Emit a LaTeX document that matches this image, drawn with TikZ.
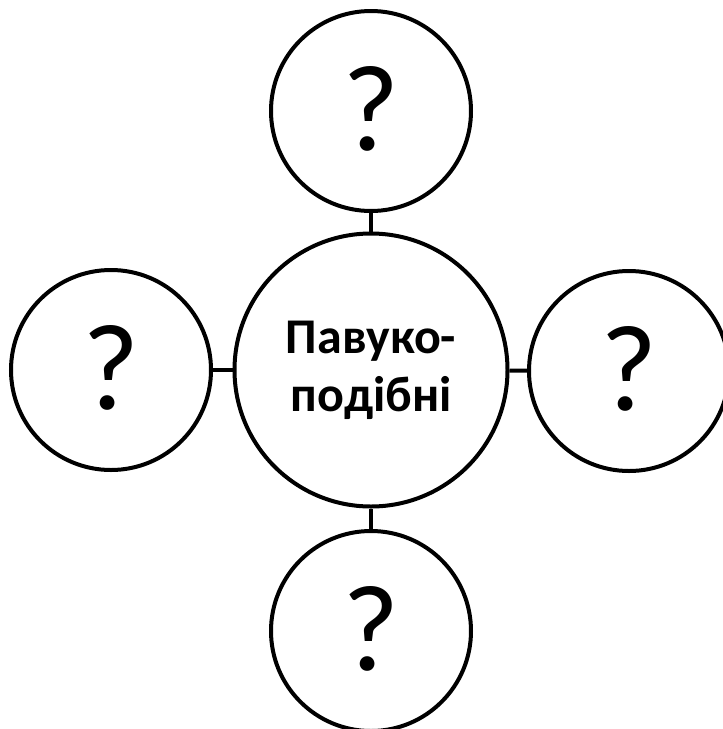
\documentclass[tikz,border=0pt]{standalone}
\usepackage{fontspec}
\setmainfont{Carlito}
\begin{document}
\begin{tikzpicture}[x=1pt,y=-1pt,
  small/.style={circle,draw=black,line width=4pt,minimum size=200pt,inner sep=0pt,
    font=\fontsize{123}{130}\selectfont},
  big/.style={circle,draw=black,line width=4pt,minimum size=273pt,inner sep=0pt,
    align=center,font=\fontsize{50}{58}\selectfont\bfseries},
  link/.style={draw=black,line width=4pt}]
\fill[white] (0,0) rectangle (723,729);
\useasboundingbox (0,0) rectangle (723,729);
\node[big] (c) at (371,370) {Павуко-\\подібні};
\node[small] (t) at (371,111) {\raisebox{6pt}{?}};
\node[small] (l) at (111,370) {\raisebox{6pt}{?}};
\node[small] (r) at (629,371) {\raisebox{6pt}{?}};
\node[small] (b) at (371,631) {\raisebox{6pt}{?}};
\draw[link] (t) -- (c);
\draw[link] (l) -- (c);
\draw[link] (r) -- (c);
\draw[link] (b) -- (c);
\end{tikzpicture}
\end{document}
